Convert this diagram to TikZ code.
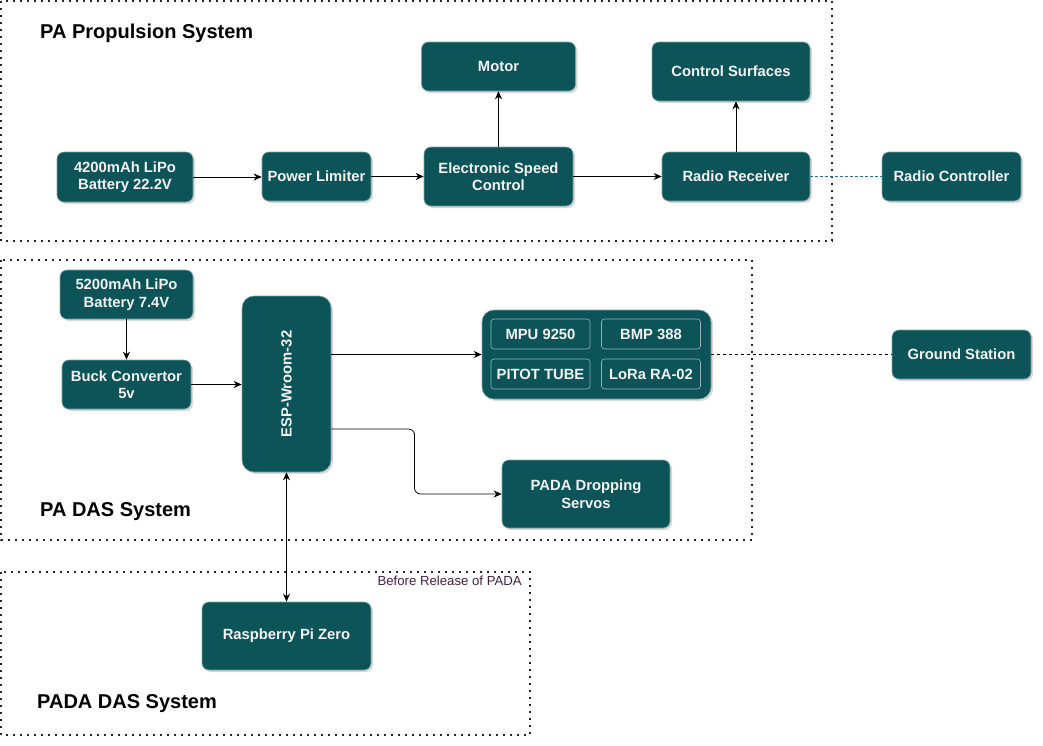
\documentclass[tikz,border=0pt]{standalone}
\usepackage{fontspec}
\setmainfont{Liberation Sans}
\usetikzlibrary{arrows.meta,shadows,calc}
\definecolor{boxteal}{HTML}{0D5459}
\definecolor{boxtext}{HTML}{F2F2F2}
\definecolor{linkblue}{HTML}{2A6F8F}
\definecolor{notecol}{HTML}{45203F}
\tikzset{
  block/.style={rectangle, rounded corners=7pt, fill=boxteal, draw=boxteal!55!white,
    line width=0.6pt, text=boxtext, align=center, inner sep=0pt,
    font=\fontsize{14.8}{17.5}\selectfont\bfseries,
    drop shadow={shadow xshift=2pt, shadow yshift=-2pt, opacity=0.3, fill=gray}},
  subblock/.style={rectangle, rounded corners=3pt, draw=boxteal!45!white, line width=0.6pt,
    text=boxtext, align=center, inner sep=0pt, minimum width=99pt, minimum height=30pt,
    font=\fontsize{14.8}{17.5}\selectfont\bfseries},
  group/.style={draw=black!85, line width=1.6pt, dash pattern=on 1.6pt off 5.4pt},
  grouptitle/.style={anchor=west, inner sep=0pt, font=\fontsize{20}{24}\selectfont\bfseries, text=black},
  flow/.style={-{Stealth[length=8pt,width=7pt]}, line width=0.8pt},
  wireless/.style={line width=0.8pt, dash pattern=on 3pt off 2pt}
}
\begin{document}
\begin{tikzpicture}[x=1pt, y=-1pt]
\useasboundingbox (0,0) rectangle (1043,745);

% subsystem frames
\draw[group] (1,1) rectangle (832,241);
\draw[group] (1,260) rectangle (752,540);
\draw[group] (1,572) rectangle (530,735);

\node[grouptitle] (tprop) at (40,33.5) {PA Propulsion System};
\node[grouptitle] (tdas) at (40,511.5) {PA DAS System};
\node[grouptitle] (tpada) at (37,703.5) {PADA DAS System};
\node[anchor=east, inner sep=0pt, text=notecol, font=\fontsize{13.2}{15}\selectfont] (note) at (522,581) {Before Release of PADA};

% propulsion chain
\node[block, minimum width=136pt, minimum height=50pt] (bat1) at (125,177) {4200mAh LiPo\\Battery 22.2V};
\node[block, minimum width=109pt, minimum height=49pt] (plim) at (316.5,176.5) {Power Limiter};
\node[block, minimum width=149pt, minimum height=59pt] (esc) at (498.5,176.5) {Electronic Speed\\Control};
\node[block, minimum width=154pt, minimum height=49pt] (motor) at (498.5,66.5) {Motor};
\node[block, minimum width=158pt, minimum height=59pt] (ctrl) at (731,71.5) {Control Surfaces};
\node[block, minimum width=148pt, minimum height=49pt] (rrx) at (736,176.5) {Radio Receiver};
\node[block, minimum width=139pt, minimum height=49pt] (rctl) at (951.5,176.5) {Radio Controller};

\draw[flow] (bat1.east) -- (bat1.east -| plim.west);
\draw[flow] (plim.east) -- (plim.east -| esc.west);
\draw[flow] (esc.north) -- (motor.south);
\draw[flow] (esc.east) -- (esc.east -| rrx.west);
\draw[flow] (rrx.north) -- (rrx.north |- ctrl.south);
\draw[wireless, linkblue] (rrx.east) -- (rctl.west);

% data acquisition system
\node[block, minimum width=133pt, minimum height=49pt] (bat2) at (126.5,294.5) {5200mAh LiPo\\Battery 7.4V};
\node[block, minimum width=129pt, minimum height=49pt] (buck) at (126.5,384.5) {Buck Convertor\\5v};
\node[block, rounded corners=12pt, minimum width=89pt, minimum height=176pt] (esp) at (286.5,384) {};
\node[rotate=90, text=boxtext, font=\fontsize{14.8}{17.5}\selectfont\bfseries] (esplabel) at (esp.center) {ESP-Wroom-32};
\node[block, rounded corners=12pt, minimum width=229pt, minimum height=89pt] (sens) at (596.5,354.5) {};
\node[subblock] (mpu) at (540.5,334) {MPU 9250};
\node[subblock] (bmp) at (651,334) {BMP 388};
\node[subblock] (pitot) at (540.5,374) {PITOT TUBE};
\node[subblock] (lora) at (651,374) {LoRa RA-02};
\node[block, minimum width=139pt, minimum height=49pt] (gnd) at (961.5,354.5) {Ground Station};
\node[block, minimum width=168pt, minimum height=68pt] (servo) at (586,494) {PADA Dropping\\Servos};

\draw[flow] (bat2.south) -- (buck.north);
\draw[flow] (buck.east) -- (buck.east -| esp.west);
\draw[flow] (esp.east |- sens.west) -- (sens.west);
\draw[flow, rounded corners=6pt] ([yshift=-45pt]esp.east) -| ($(esp.east)!0.5!(servo.west)+(-2,0)$) |- (servo.west);
\draw[wireless, dash pattern=on 3pt off 3pt] (sens.east) -- (gnd.west);

% PADA
\node[block, minimum width=169pt, minimum height=68pt] (rpi) at (286.5,636) {Raspberry Pi Zero};
\draw[{Stealth[length=8pt,width=7pt]}-{Stealth[length=8pt,width=7pt]}, line width=0.8pt] (esp.south) -- (rpi.north);
\end{tikzpicture}
\end{document}
